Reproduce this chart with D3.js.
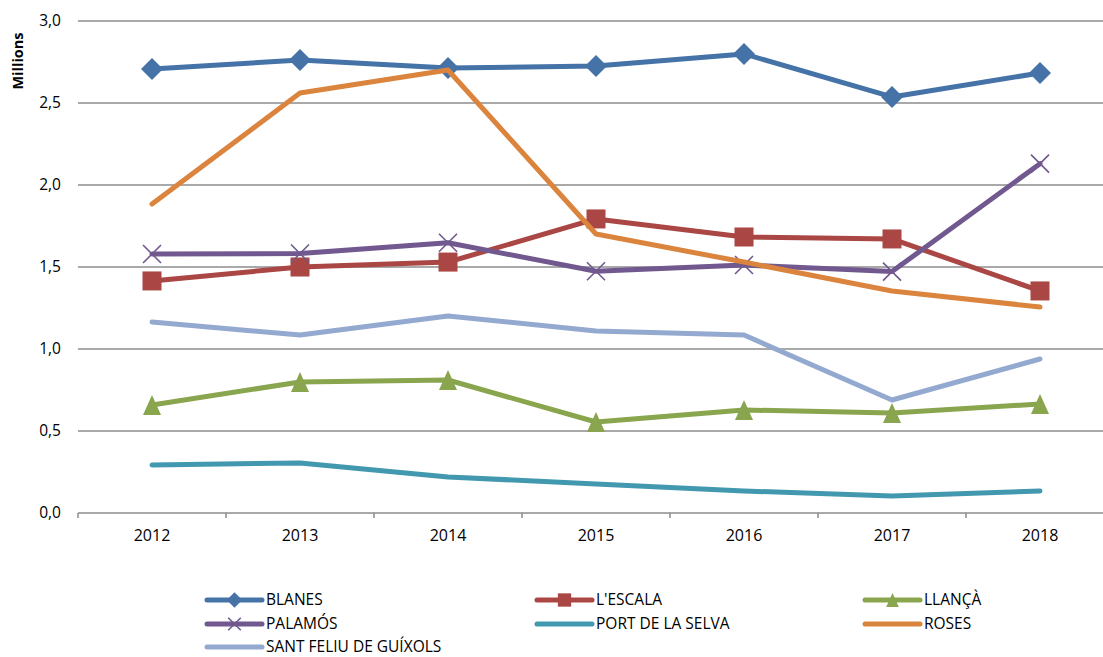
<!DOCTYPE html>
<html>
<head>
<meta charset="utf-8">
<script src="https://cdn.jsdelivr.net/npm/d3@7"></script>
<style>
  html, body { margin: 0; padding: 0; background: #fff; }
  svg { display: block; font-family: "Open Sans", "Noto Sans", sans-serif; }
</style>
</head>
<body>
<svg id="chart" width="1103" height="657"></svg>
<script>
// ---- Data ----
const years = ["2012", "2013", "2014", "2015", "2016", "2017", "2018"];
const yTicks = [0, 0.5, 1.0, 1.5, 2.0, 2.5, 3.0];
const seriesNames = ["BLANES", "L'ESCALA", "LLANÇÀ", "PALAMÓS", "PORT DE LA SELVA", "ROSES", "SANT FELIU DE GUÍXOLS"];
const blanes      = [2.707, 2.762, 2.713, 2.726, 2.799, 2.537, 2.683];
const lescala     = [1.415, 1.500, 1.530, 1.793, 1.683, 1.671, 1.354];
const llanca      = [0.659, 0.799, 0.811, 0.555, 0.628, 0.610, 0.665];
const palamos     = [1.579, 1.582, 1.648, 1.474, 1.512, 1.472, 2.130];
const portSelva   = [0.293, 0.305, 0.220, 0.177, 0.134, 0.104, 0.134];
const roses       = [1.884, 2.561, 2.701, 1.701, 1.530, 1.354, 1.256];
const santFeliu   = [1.165, 1.085, 1.201, 1.110, 1.085, 0.689, 0.939];

const seriesValues = [blanes, lescala, llanca, palamos, portSelva, roses, santFeliu];
const colors  = ["#4572A7", "#AA4643", "#89A54E", "#71588F", "#4198AF", "#DB843D", "#93A9CF"];
const markers = ["diamond", "square", "triangle", "x", null, null, null];

const series = seriesNames.map((n, i) => ({ name: n, values: seriesValues[i], color: colors[i], marker: markers[i] }));

// ---- Layout ----
const svg = d3.select("#chart");
const plotLeft = 78, plotRight = 1114, plotTop = 21, plotBottom = 513;

const x = d3.scaleBand().domain(years).range([plotLeft, plotRight]).padding(0);
const y = d3.scaleLinear().domain([0, 3]).range([plotBottom, plotTop]);

// gridlines
svg.append("g").selectAll("line").data(yTicks.filter(d => d > 0)).join("line")
  .attr("x1", plotLeft).attr("x2", plotRight)
  .attr("y1", d => y(d)).attr("y2", d => y(d))
  .attr("stroke", "#8c8c8c").attr("stroke-width", 1.5);

// y labels
svg.append("g").selectAll("text").data(yTicks).join("text")
  .attr("x", 61).attr("y", d => y(d)).attr("dy", "0.35em")
  .attr("text-anchor", "end").attr("font-size", 15.5).attr("fill", "#000")
  .text(d => d3.format(".1f")(d).replace(".", ","));

// Y title
svg.append("text")
  .attr("transform", `translate(23,61) rotate(-90)`)
  .attr("text-anchor", "middle").attr("font-size", 14.5).attr("font-weight", "bold")
  .text("Millions");

// x axis
const xAxis = d3.axisBottom(x).tickSize(0).tickPadding(17);
const gx = svg.append("g").attr("transform", `translate(0,${plotBottom})`).call(xAxis);
gx.select(".domain").remove();
gx.selectAll("text").attr("font-size", 16).attr("fill", "#000").attr("font-family", "'Open Sans', 'Noto Sans', sans-serif");
svg.append("line").attr("x1", plotLeft).attr("x2", plotRight).attr("y1", plotBottom).attr("y2", plotBottom)
  .attr("stroke", "#8c8c8c").attr("stroke-width", 1.5);
const boundaries = years.map(d => x(d)).concat([x(years[years.length - 1]) + x.bandwidth()]);
svg.append("g").selectAll("line").data(boundaries).join("line")
  .attr("x1", d => d).attr("x2", d => d).attr("y1", plotBottom).attr("y2", plotBottom + 5)
  .attr("stroke", "#8c8c8c").attr("stroke-width", 1.5);

// lines
const cx = d => x(d) + x.bandwidth() / 2;
const line = d3.line().x((d, i) => cx(years[i])).y(d => y(d));

function drawMarker(g, type, color, px, py, scale) {
  const s = scale || 1;
  if (type === "diamond") {
    const h = 11 * s;
    g.append("path").attr("d", `M${px},${py - h}L${px + h},${py}L${px},${py + h}L${px - h},${py}Z`)
      .attr("fill", color);
  } else if (type === "square") {
    const h = 9.5 * s;
    g.append("rect").attr("x", px - h).attr("y", py - h).attr("width", 2 * h).attr("height", 2 * h)
      .attr("fill", color);
  } else if (type === "triangle") {
    const h = 10 * s, w = 9 * s;
    g.append("path").attr("d", `M${px},${py - h}L${px + w},${py + h}L${px - w},${py + h}Z`).attr("fill", color);
  } else if (type === "x") {
    const h = 9 * s;
    g.append("path").attr("d", `M${px - h},${py - h}L${px + h},${py + h}M${px - h},${py + h}L${px + h},${py - h}`)
      .attr("stroke", color).attr("stroke-width", 1.6).attr("fill", "none");
  }
}

series.forEach(s => {
  const g = svg.append("g");
  g.append("path").datum(s.values).attr("d", line)
    .attr("fill", "none").attr("stroke", s.color).attr("stroke-width", 5)
    .attr("stroke-linejoin", "round").attr("stroke-linecap", "round");
  if (s.marker) {
    s.values.forEach((v, i) => drawMarker(g, s.marker, s.color, cx(years[i]), y(v)));
  }
});

// legend
const colX = [207, 537, 865];
const rowY = [600, 624, 647];
series.forEach((s, i) => {
  const col = i % 3, row = Math.floor(i / 3);
  const lx = colX[col], ly = rowY[row];
  const g = svg.append("g");
  g.append("line").attr("x1", lx).attr("x2", lx + 55).attr("y1", ly).attr("y2", ly)
    .attr("stroke", s.color).attr("stroke-width", 5).attr("stroke-linecap", "round");
  if (s.marker) drawMarker(g, s.marker, s.color, lx + 27.5, ly, 0.7);
  g.append("text").attr("x", lx + 59).attr("y", ly).attr("dy", "0.35em")
    .attr("font-size", 15.5).attr("fill", "#000").text(s.name);
});
</script>
</body>
</html>
